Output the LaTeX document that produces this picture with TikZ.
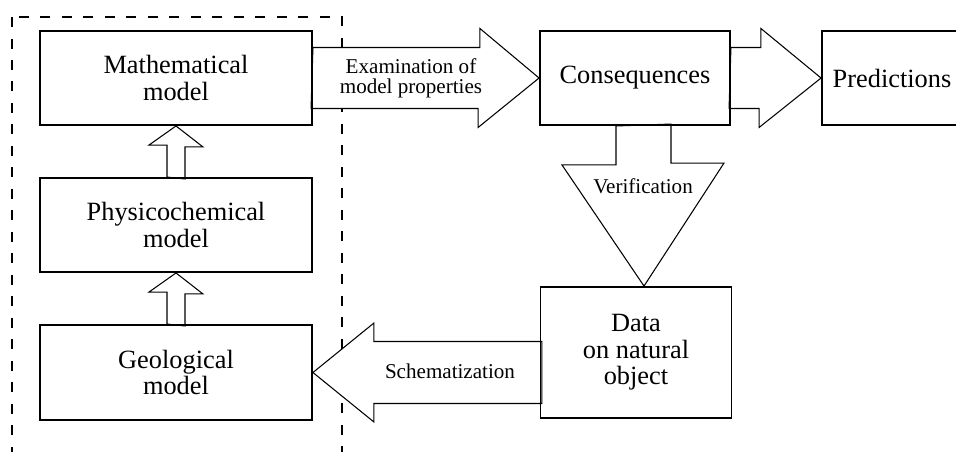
\documentclass[tikz,border=0pt]{standalone}
\usepackage{fontspec}
\setmainfont{Liberation Serif}
\usetikzlibrary{calc,backgrounds}

\begin{document}
\begin{tikzpicture}[x=0.02cm, y=-0.02cm,
    box/.style={draw, line width=1.1pt, align=center, inner sep=0pt, font=\fontsize{15}{15}\selectfont},
    barrow/.style={draw, fill=white, line width=0.6pt, line join=miter},
    lbl/.style={align=center, inner sep=0pt, font=\fontsize{12}{11.5}\selectfont},
    frame/.style={draw, line width=0.85pt, dash pattern=on 0.2cm off 0.23cm}]
    \useasboundingbox (0,0) rectangle (956,451);

    \node[box,minimum width=5.44cm,minimum height=1.88cm] (math) at (176,78) {Mathematical\\model};
    \node[box,minimum width=5.44cm,minimum height=1.88cm] (phys) at (176,225) {Physicochemical\\model};
    \node[box,minimum width=5.44cm,minimum height=1.9cm] (geo) at (176,372.5) {Geological\\model};
    \node[box,minimum width=3.8cm,minimum height=1.88cm] (cons) at (635,78) {Consequences};
    \node[box,minimum width=2.8cm,minimum height=1.88cm] (pred) at (892,78) {Predictions};
    \node[box,minimum width=3.82cm,minimum height=2.62cm] (data) at (636,352.5) {Data\\on natural\\object};

    \node[lbl] (exam) at (411,78) {Examination of\\model properties};
    \node[lbl] (verif) at (643,186) {Verification};
    \node[lbl] (schem) at (450,371) {Schematization};

    \begin{pgfonlayer}{background}
    \draw[frame] (12,17) rectangle (342,480);
    \draw[barrow] (phys.north) ++(-9,0) -- ++(0,-32) -- ++(-18,0) -- (math.south) -- ++(27,21) -- ++(-18,0) -- ++(0,32) -- cycle;
    \draw[barrow] (geo.north) ++(-9,0) -- ++(0,-32) -- ++(-18,0) -- (phys.south) -- ++(27,21) -- ++(-18,0) -- ++(0,32) -- cycle;
    \draw[barrow] (math.east) ++(0,-30.5) -- ++(167,0) -- ++(0,-19) -- (cons.west) -- ++(-61,49.5) -- ++(0,-19) -- ++(-167,0) -- cycle;
    \draw[barrow] (cons.east) ++(0,-30.5) -- ++(30,0) -- ++(0,-19) -- (pred.west) -- ++(-62,49.5) -- ++(0,-19) -- ++(-30,0) -- cycle;
    \draw[barrow] (cons.south) ++(-19,0) -- ++(0,39) -- ++(-54,0) -- ($(data.north)+(8,0)$) -- ++(80,-123) -- ++(-53,0) -- ++(0,-39) -- cycle;
    \draw[barrow] (geo.east) -- ++(61,-49.5) -- ++(0,18.5) -- ++(168,0) -- ++(0,62) -- ++(-168,0) -- ++(0,18.5) -- cycle;
    \end{pgfonlayer}
\end{tikzpicture}
\end{document}
